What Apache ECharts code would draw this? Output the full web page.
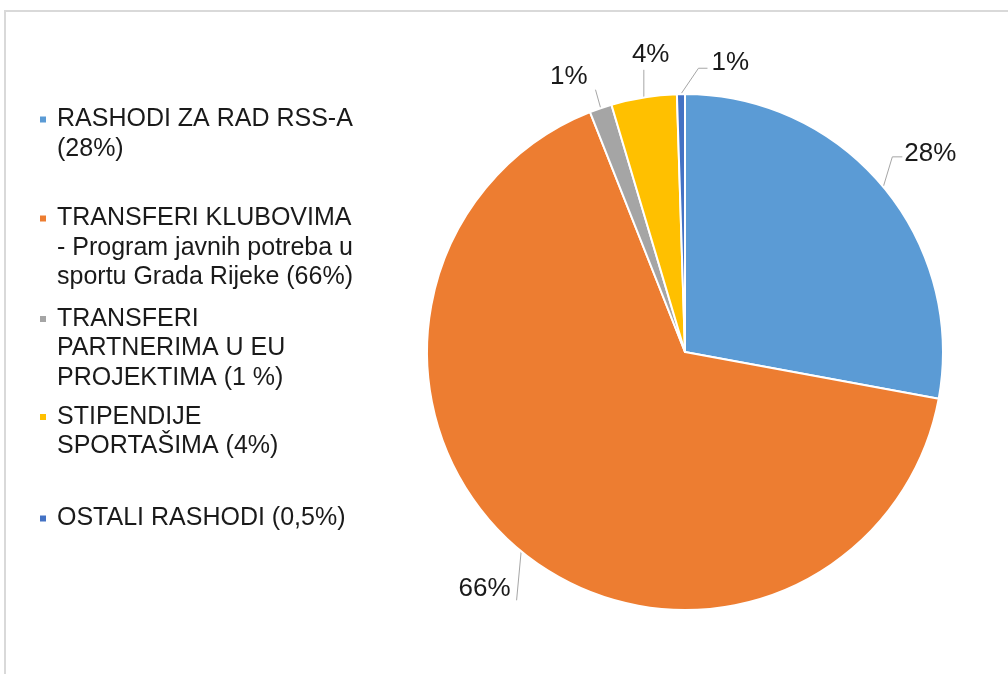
<!DOCTYPE html>
<html>
<head>
<meta charset="utf-8">
<script src="https://cdn.jsdelivr.net/npm/echarts@6/dist/echarts.min.js"></script>
<style>
html,body{margin:0;padding:0;background:#fff;}
#chart{width:1008px;height:674px;}
</style>
</head>
<body>
<div id="chart"></div>
<script>
// ---- data ----
const categories = ['RASHODI ZA RAD RSS-A', 'TRANSFERI KLUBOVIMA', 'TRANSFERI PARTNERIMA U EU PROJEKTIMA', 'STIPENDIJE SPORTAŠIMA', 'OSTALI RASHODI'];
const values = [27.9, 66.1, 1.4, 4.1, 0.5];
const legendTexts = [
  'RASHODI ZA RAD RSS-A\n(28%)',
  'TRANSFERI KLUBOVIMA\n- Program javnih potreba u\nsportu Grada Rijeke (66%)',
  'TRANSFERI\nPARTNERIMA U EU\nPROJEKTIMA (1 %)',
  'STIPENDIJE\nSPORTAŠIMA (4%)',
  'OSTALI RASHODI (0,5%)'
];
const pctLabels = ['28%', '66%', '1%', '4%', '1%'];
const colors = ['#5B9BD5', '#ED7D31', '#A5A5A5', '#FFC000', '#4472C4'];

// ---- layout / style ----
const LH = 29.5;
const legendFirstLineCenters = [119.5, 218.5, 319, 417, 518.5];
const labelLens = [[30, 6], [34, 6], [28, 4], [40, 0], [30, 10]];
const labelShift = [
  {dx: -13, dy: -14},
  {dx: 22, dy: 11},
  {dx: 5, dy: -5},
  {dx: 37, dy: -3},
  {dx: 46, dy: -1, align: 'left'}
];

// route each leader line from the slice anchor to the moved label box
function leader(p) {
  const s = labelShift[p.dataIndex];
  const r = p.labelRect;
  const x = (s.align === 'left' ? r.x + r.width : r.x) + s.dx;
  const y = r.y + s.dy;
  const w = r.width, h = r.height;
  const a = p.labelLinePoints[0];
  switch (p.dataIndex) {
    case 0: return [a, [x - 12, y + h * 0.62], [x - 2, y + h * 0.62]];
    case 1: return [a, [x + w + 6, y + h * 0.95], [x + w + 6, y + h * 0.95]];
    case 2: return [a, [x + w + 8, y + h], [x + w + 8, y + h]];
    case 3: return [a, [a[0], y + h + 2], [a[0], y + h + 2]];
    default: return [a, [x - 13, y + h * 0.7], [x - 4, y + h * 0.7]];
  }
}

const legends = categories.map((c, i) => {
  const n = legendTexts[i].split('\n').length;
  // leading blank lines keep the marker level with the first text line
  const txt = '\n'.repeat(n - 1) + legendTexts[i];
  return {
    orient: 'vertical',
    left: 38,
    top: legendFirstLineCenters[i] - (2 * n - 1) * LH / 2,
    padding: 0,
    icon: 'rect',
    itemWidth: 8,
    itemHeight: 8,
    selectedMode: false,
    data: [c],
    formatter: () => txt,
    textStyle: {
      fontFamily: 'Liberation Sans, Arial, sans-serif',
      fontSize: 25,
      color: '#1a1a1a',
      lineHeight: LH,
      padding: [0, 0, 0, 5]
    }
  };
});

const chart = echarts.init(document.getElementById('chart'), null, {renderer: 'canvas'});
chart.setOption({
  backgroundColor: '#ffffff',
  animation: false,
  color: colors,
  graphic: [{
    type: 'rect',
    shape: {x: 5, y: 11, width: 1200, height: 1000},
    style: {fill: 'none', stroke: '#d9d9d9', lineWidth: 2},
    silent: true
  }],
  legend: legends,
  series: [{
    type: 'pie',
    center: [685, 352],
    radius: 258,
    startAngle: 90,
    clockwise: true,
    avoidLabelOverlap: false,
    minShowLabelAngle: 0,
    itemStyle: {borderColor: '#ffffff', borderWidth: 2},
    label: {
      show: true,
      position: 'outside',
      fontFamily: 'Liberation Sans, Arial, sans-serif',
      fontSize: 26,
      color: '#1a1a1a',
      formatter: p => pctLabels[p.dataIndex]
    },
    labelLine: {show: true, lineStyle: {color: '#a6a6a6', width: 1}},
    labelLayout: p => Object.assign({hideOverlap: false, labelLinePoints: leader(p)}, labelShift[p.dataIndex]),
    emphasis: {disabled: true},
    data: categories.map((c, i) => ({
      name: c,
      value: values[i],
      labelLine: {length: labelLens[i][0], length2: labelLens[i][1]}
    }))
  }]
});
</script>
</body>
</html>
